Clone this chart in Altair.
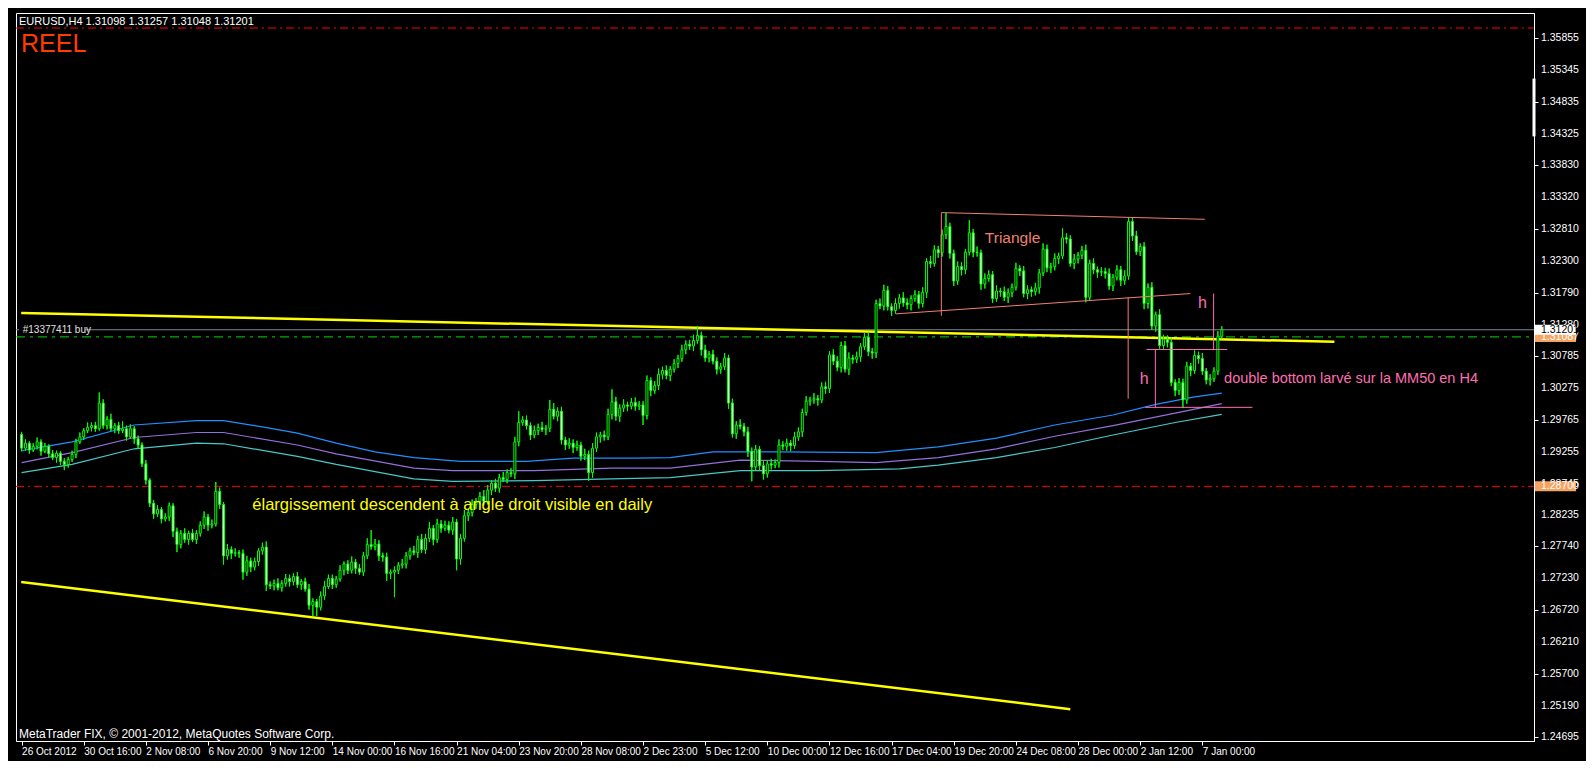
import pandas as pd
import altair as alt

# ---------------- data ----------------
first_open = 1.2953
closes = [
    1.2931, 1.2939, 1.2928, 1.2934, 1.2941, 1.2926, 1.2934, 1.2922, 1.2916, 1.2923,
    1.2910, 1.2905, 1.2913, 1.2921, 1.2941, 1.2949, 1.2959, 1.2964, 1.2967, 1.2962,
    1.3003, 1.2967, 1.2977, 1.2962, 1.2967, 1.2959, 1.2962, 1.2949, 1.2962, 1.2946,
    1.2936, 1.2906, 1.2880, 1.2843, 1.2826, 1.2833, 1.2818, 1.2821, 1.2839, 1.2798,
    1.2777, 1.2795, 1.2785, 1.2795, 1.2785, 1.2795, 1.2808, 1.2821, 1.2808, 1.2810,
    1.2862, 1.2841, 1.2759, 1.2769, 1.2763, 1.2764, 1.2763, 1.2733, 1.2751, 1.2741,
    1.2750, 1.2767, 1.2773, 1.2713, 1.2711, 1.2715, 1.2708, 1.2715, 1.2723, 1.2718,
    1.2726, 1.2713, 1.2718, 1.2706, 1.2680, 1.2686, 1.2677, 1.2695, 1.2710, 1.2723,
    1.2713, 1.2722, 1.2736, 1.2746, 1.2736, 1.2749, 1.2739, 1.2733, 1.2759, 1.2777,
    1.2774, 1.2778, 1.2759, 1.2757, 1.2731, 1.2733, 1.2736, 1.2744, 1.2746, 1.2759,
    1.2767, 1.2764, 1.2785, 1.2769, 1.2787, 1.2803, 1.2785, 1.2810, 1.2803, 1.2808,
    1.2800, 1.2813, 1.2754, 1.2787, 1.2823, 1.2828, 1.2841, 1.2846, 1.2854, 1.2846,
    1.2864, 1.2875, 1.2867, 1.2884, 1.2881, 1.2892, 1.2890, 1.2941, 1.2972, 1.2976,
    1.2967, 1.2952, 1.2959, 1.2964, 1.2961, 1.2963, 1.2993, 1.2982, 1.2990, 1.2944,
    1.2936, 1.2939, 1.2932, 1.2936, 1.2918, 1.2921, 1.2892, 1.2931, 1.2949, 1.2952,
    1.2949, 1.2985, 1.3005, 1.2982, 1.2995, 1.3000, 1.2998, 1.3004, 1.2998, 1.3000,
    1.2983, 1.3039, 1.3023, 1.3031, 1.3049, 1.3055, 1.3047, 1.3057, 1.3066, 1.3074,
    1.3088, 1.3097, 1.3094, 1.3103, 1.3111, 1.3088, 1.3075, 1.3081, 1.3070, 1.3057,
    1.3061, 1.3075, 1.3003, 1.2954, 1.2968, 1.2966, 1.2957, 1.2926, 1.2901, 1.2929,
    1.2903, 1.2890, 1.2906, 1.2904, 1.2908, 1.2936, 1.2934, 1.2939, 1.2935, 1.2949,
    1.2957, 1.2988, 1.3006, 1.3008, 1.3010, 1.3008, 1.3029, 1.3026, 1.3080, 1.3070,
    1.3060, 1.3095, 1.3057, 1.3075, 1.3073, 1.3077, 1.3093, 1.3108, 1.3085, 1.3083,
    1.3162, 1.3158, 1.3183, 1.3157, 1.3151, 1.3162, 1.3171, 1.3163, 1.3160, 1.3170,
    1.3176, 1.3162, 1.3180, 1.3229, 1.3226, 1.3248, 1.3243, 1.3272, 1.3285, 1.3242,
    1.3198, 1.3221, 1.3216, 1.3244, 1.3275, 1.3244, 1.3243, 1.3193, 1.3202, 1.3208,
    1.3170, 1.3182, 1.3181, 1.3172, 1.3179, 1.3188, 1.3218, 1.3214, 1.3178, 1.3184,
    1.3181, 1.3187, 1.3211, 1.3249, 1.3219, 1.3221, 1.3234, 1.3238, 1.3267, 1.3265,
    1.3226, 1.3233, 1.3239, 1.3247, 1.3172, 1.3226, 1.3216, 1.3212, 1.3213, 1.3210,
    1.3190, 1.3204, 1.3216, 1.3199, 1.3206, 1.3293, 1.3270, 1.3245, 1.3253, 1.3162,
    1.3188, 1.3126, 1.3144, 1.3095, 1.3105, 1.3100, 1.3036, 1.3023, 1.3036, 1.3008,
    1.3062, 1.3055, 1.3079, 1.3074, 1.3054, 1.3040, 1.3042, 1.3054, 1.31098, 1.31201,
]
# wick lengths in pips above / below the body
wick_up = [
    4, 6, 3, 5, 7, 4, 5, 3, 6, 4,   3, 5, 4, 6, 5, 7, 4, 8, 5, 6,
    17, 6, 5, 9, 4, 6, 12, 5, 7, 4,  5, 4, 6, 3, 5, 7, 4, 6, 5, 4,
    6, 5, 8, 4, 7, 5, 6, 9, 5, 7,   15, 6, 4, 9, 5, 7, 4, 6, 8, 5,
    6, 4, 7, 9, 5, 6, 8, 5, 7, 6,   5, 7, 4, 6, 8, 5, 4, 7, 9, 6,
    6, 5, 8, 4, 6, 9, 5, 7, 6, 10,  23, 8, 6, 5, 7, 4, 6, 5, 8, 6,
    5, 8, 6, 9, 7, 10, 5, 8, 6, 7,  6, 8, 5, 7, 9, 6, 8, 5, 7, 10,
    8, 5, 7, 6, 9, 5, 7, 8, 18, 6,  7, 5, 8, 6, 9, 5, 15, 10, 6, 7,
    5, 8, 6, 7, 5, 9, 6, 8, 7, 5,   7, 9, 20, 8, 6, 9, 5, 7, 8, 6,
    6, 8, 5, 7, 9, 6, 8, 5, 7, 6,   8, 6, 7, 9, 15, 6, 8, 5, 7, 6,
    6, 8, 5, 7, 6, 9, 5, 8, 6, 7,   5, 7, 6, 8, 5, 9, 6, 7, 5, 8,
    7, 6, 8, 5, 9, 6, 7, 8, 6, 9,   8, 6, 7, 9, 5, 8, 6, 7, 9, 6,
    6, 8, 9, 7, 5, 8, 6, 9, 7, 5,   7, 6, 8, 5, 9, 7, 6, 8, 22, 6,
    6, 8, 7, 5, 20, 6, 9, 5, 8, 7,  6, 9, 5, 8, 7, 6, 9, 5, 8, 7,
    5, 8, 6, 9, 7, 6, 8, 5, 15, 7,  6, 8, 5, 7, 9, 6, 8, 5, 7, 6,
    8, 5, 7, 6, 9, 7, 6, 8, 5, 7,   6, 8, 5, 9, 7, 6, 8, 5, 7, 6,
    7, 5, 8, 6, 9, 5, 7, 6, 8, 5.6,
]
wick_dn = [
    5, 4, 6, 3, 5, 7, 3, 6, 4, 8,   6, 9, 5, 4, 6, 3, 5, 4, 6, 5,
    3, 5, 6, 4, 7, 5, 4, 6, 3, 8,   6, 5, 7, 6, 8, 5, 7, 4, 6, 9,
    12, 6, 5, 8, 4, 7, 5, 6, 9, 5,  4, 7, 14, 6, 9, 5, 7, 12, 6, 8,
    5, 7, 6, 10, 5, 7, 4, 6, 5, 8,  6, 5, 8, 4, 7, 18, 14, 5, 6, 4,
    7, 5, 4, 8, 6, 5, 9, 4, 6, 5,   5, 6, 8, 7, 12, 9, 40, 6, 5, 7,
    6, 4, 8, 5, 7, 6, 9, 5, 7, 4,   5, 7, 18, 9, 5, 8, 6, 7, 5, 6,
    5, 8, 6, 7, 4, 6, 5, 8, 7, 5,   6, 8, 5, 7, 4, 9, 6, 5, 8, 7,
    8, 6, 9, 5, 7, 6, 13, 8, 6, 9,  6, 5, 8, 7, 9, 6, 8, 5, 7, 6,
    15, 6, 9, 5, 7, 8, 6, 9, 5, 7,  5, 7, 6, 8, 5, 9, 6, 7, 5, 8,
    7, 5, 9, 6, 8, 5, 7, 9, 23, 6,  8, 9, 6, 7, 5, 8, 6, 7, 9, 5,
    6, 8, 5, 7, 6, 9, 5, 8, 7, 6,   6, 8, 5, 9, 7, 6, 8, 5, 7, 9,
    8, 5, 7, 6, 9, 5, 8, 6, 7, 9,   5, 8, 6, 9, 7, 5, 8, 6, 7, 8,
    8, 6, 9, 7, 5, 8, 6, 9, 7, 5,   7, 5, 8, 6, 9, 7, 5, 8, 6, 9,
    8, 6, 9, 5, 7, 8, 6, 9, 5, 7,   5, 9, 7, 6, 8, 5, 7, 9, 6, 8,
    6, 8, 5, 9, 7, 6, 8, 5, 7, 9,   8, 6, 9, 5, 7, 8, 6, 9, 7, 13,
    6, 9, 5, 8, 6, 7, 9, 5, 6, 5,
]

time_labels = ["26 Oct 2012", "30 Oct 16:00", "2 Nov 08:00", "6 Nov 20:00", "9 Nov 12:00",
               "14 Nov 00:00", "16 Nov 16:00", "21 Nov 04:00", "23 Nov 20:00", "28 Nov 08:00",
               "2 Dec 23:00", "5 Dec 12:00", "10 Dec 00:00", "12 Dec 16:00", "17 Dec 04:00",
               "19 Dec 20:00", "24 Dec 08:00", "28 Dec 00:00", "2 Jan 12:00", "7 Jan 00:00"]
bars_per_label = 16
price_ticks = [1.35855, 1.35345, 1.34835, 1.34325, 1.33830, 1.33320, 1.32810, 1.32300,
               1.31790, 1.31280, 1.30785, 1.30275, 1.29765, 1.29255, 1.28745, 1.28235,
               1.27740, 1.27230, 1.26720, 1.26210, 1.25700, 1.25190, 1.24695]

# moving-average envelope (MM50 bands)
blue_bars = [0, 13, 29, 45, 52, 62, 71, 81, 91, 101, 113, 130, 142, 158, 167, 178, 195, 220, 236, 251, 266, 281, 292, 302, 309]
blue_vals = [1.2927, 1.2941, 1.2968, 1.2975, 1.2975, 1.2965, 1.2955, 1.2939, 1.2925, 1.2916, 1.2910, 1.2910, 1.2915,
             1.2915, 1.2916, 1.2925, 1.2925, 1.2924, 1.2933, 1.2947, 1.2968, 1.2984, 1.3001, 1.3013, 1.3019]
purple_bars = [0, 13, 29, 45, 52, 71, 81, 101, 111, 132, 152, 167, 185, 205, 220, 236, 251, 266, 281, 297, 309]
purple_vals = [1.2908, 1.2924, 1.2948, 1.2956, 1.2956, 1.2936, 1.2922, 1.2899, 1.2895, 1.2895, 1.2899, 1.2899,
               1.2912, 1.2910, 1.2908, 1.2916, 1.2930, 1.2950, 1.2967, 1.2987, 1.3002]
cyan_bars = [0, 13, 29, 45, 52, 71, 81, 101, 111, 132, 152, 167, 185, 205, 226, 236, 251, 266, 281, 297, 309]
cyan_vals = [1.2892, 1.2905, 1.2930, 1.2939, 1.2938, 1.2918, 1.2905, 1.2882, 1.2878, 1.2879, 1.2882, 1.2884,
             1.2895, 1.2895, 1.2898, 1.2904, 1.2916, 1.2932, 1.2952, 1.2972, 1.2985]

# levels
bid_price = 1.31201
order_price = 1.31087
alert_low = 1.28700
alert_high = 1.36020
marker_top, marker_bottom = 1.35213, 1.34289

# trend lines: (bar1, price1, bar2, price2)
yellow_upper = [(-0.1, 1.31470, 338, 1.31009)]
yellow_lower = [(-0.1, 1.27173, 270, 1.25141)]
tri_lines = [(236.8, 1.33072, 304.6, 1.32965), (225.1, 1.31455, 300.9, 1.31779),
             (236.8, 1.33072, 236.8, 1.31425), (284.9, 1.31717, 284.9, 1.30100)]
pink_lines = [(289.6, 1.30886, 310.4, 1.30886), (289.3, 1.29962, 316.9, 1.29962),
              (291.9, 1.30886, 291.9, 1.29962), (306.9, 1.31779, 306.9, 1.30886)]

# ---------------- build tables ----------------
W, H = 1518, 728
FONT = "Liberation Sans"
opens = [first_open] + closes[:-1]
rows = []
for i, c in enumerate(closes):
    o = opens[i]
    rows.append(dict(bar=i, open=o, close=c,
                     high=max(o, c) + wick_up[i] * 0.0001,
                     low=min(o, c) - wick_dn[i] * 0.0001,
                     dir="bull" if c >= o else "bear"))
candles = pd.DataFrame(rows)

xs = alt.Scale(domain=[-0.15, 388.1], nice=False, zero=False)
ys = alt.Scale(domain=[1.24633, 1.36260], nice=False, zero=False)

label_expr = ""
for k, lab in enumerate(time_labels):
    label_expr += f"datum.value == {k * bars_per_label} ? '{lab}' : "
label_expr += "''"


def X(f):
    return alt.X(f + ":Q", scale=xs)


def Y(f):
    return alt.Y(f + ":Q", scale=ys)


def hline(price, color, dash=None, width=1):
    kw = dict(color=color, strokeWidth=width)
    if dash:
        kw["strokeDash"] = dash
    return alt.Chart(pd.DataFrame({"p": [price]})).mark_rule(**kw).encode(
        x=alt.value(0), x2=alt.value(W), y=Y("p"))


def seg(lines, color, width):
    df = pd.DataFrame([dict(b1=b1, p1=p1, b2=b2, p2=p2) for (b1, p1, b2, p2) in lines])
    return alt.Chart(df).mark_rule(color=color, strokeWidth=width).encode(
        x=X("b1"), y=Y("p1"), x2="b2:Q", y2="p2:Q")


def ma(bars, vals, color):
    return alt.Chart(pd.DataFrame({"b": bars, "p": vals})).mark_line(color=color, strokeWidth=1.2).encode(
        x=X("b"), y=Y("p"))


def txt(text, bar, price, color, size, align="left"):
    return alt.Chart(pd.DataFrame({"b": [bar], "p": [price], "t": [text]})).mark_text(
        color=color, fontSize=size, font=FONT, align=align, baseline="middle").encode(
        x=X("b"), y=Y("p"), text="t:N")


def screen_txt(text, x, y, color, size):
    return alt.Chart(pd.DataFrame({"t": [text]})).mark_text(
        color=color, fontSize=size, font=FONT, align="left", baseline="middle").encode(
        x=alt.value(x), y=alt.value(y), text="t:N")


def axis_box(price, fill, text_color):
    d = pd.DataFrame({"p": [price], "t": [f"{price:.5f}"]})
    box = alt.Chart(d).mark_rule(color=fill, strokeWidth=10).encode(
        x=alt.value(W + 1), x2=alt.value(W + 42), y=Y("p"))
    lab = alt.Chart(d).mark_text(color=text_color, fontSize=10.5, font=FONT, align="left",
                                 baseline="middle").encode(x=alt.value(W + 7), y=Y("p"), text="t:N")
    return [box, lab]


base = alt.Chart(candles)
wicks = base.mark_rule(color="#00FF00").encode(
    x=alt.X("bar:Q", scale=xs,
            axis=alt.Axis(values=[k * bars_per_label for k in range(len(time_labels))], labelExpr=label_expr,
                          labelAlign="left", tickSize=4, labelPadding=1, labelFontSize=10,
                          labelColor="white", domainColor="white", tickColor="white", grid=False,
                          title=None, labelFont=FONT)),
    y=alt.Y("low:Q", scale=ys,
            axis=alt.Axis(values=price_ticks, format=".5f", orient="right", tickSize=4, labelFontSize=10.5,
                          labelColor="black", domainColor="white", tickColor="white", grid=False,
                          title=None, labelFont=FONT)),
    y2="high:Q")
bodies = base.mark_bar(size=2, stroke="#00FF00", strokeWidth=1).encode(
    x=X("bar"), y=Y("open"), y2="close:Q",
    fill=alt.Fill("dir:N", scale=alt.Scale(domain=["bull", "bear"], range=["#000000", "#FFFFFF"]), legend=None))

price_labels = alt.Chart(pd.DataFrame({"p": price_ticks, "t": [f"{v:.5f}" for v in price_ticks]})).mark_text(
    color="white", fontSize=10.5, font=FONT, align="left", baseline="middle").encode(
    x=alt.value(W + 7), y=Y("p"), text="t:N")

layers = [
    wicks,
    hline(alert_high, "#FF0000", [8, 4, 2, 4]),
    hline(alert_low, "#FF0000", [8, 4, 2, 4]),
    hline(order_price, "#00DD00", [9, 5, 3, 5]),
    hline(bid_price, "#778899"),
    ma(blue_bars, blue_vals, "#1E90FF"),
    ma(purple_bars, purple_vals, "#9370DB"),
    ma(cyan_bars, cyan_vals, "#48C8C8"),
    seg(yellow_upper, "#FFFF00", 2.5),
    seg(yellow_lower, "#FFFF00", 2.5),
    base.mark_rule(color="#00FF00").encode(x=X("bar"), y=Y("low"), y2="high:Q"),
    bodies,
    seg(tri_lines, "#F08070", 1),
    seg(pink_lines, "#FF6EB4", 1),
    txt("Triangle", 248, 1.3267, "#F08070", 15.5),
    txt("h", 289, 1.3041, "#FF6EB4", 16, "center"),
    txt("h", 304, 1.3163, "#FF6EB4", 16, "center"),
    txt("double bottom larvé sur la MM50 en H4", 309.6, 1.3041, "#FF6EB4", 14.5),
    txt("élargissement descendent à angle droit visible en daily", 59.4, 1.28406, "#FFFF00", 16.5),
    alt.Chart(pd.DataFrame({"p": [bid_price]})).mark_rule(color="black", strokeWidth=11).encode(
        x=alt.value(3), x2=alt.value(69), y=Y("p")),
    txt("#13377411 buy", 0.3, bid_price - 0.00003, "#E0E0E0", 10),
    screen_txt("EURUSD,H4  1.31098 1.31257 1.31048 1.31201", 3, 9, "white", 11),
    screen_txt("REEL", 5, 31, "#FF3C00", 25),
    screen_txt("MetaTrader FIX, © 2001-2012, MetaQuotes Software Corp.", 3, H - 7, "white", 12),
    alt.Chart(pd.DataFrame({"a": [marker_top], "b": [marker_bottom]})).mark_rule(
        color="white", strokeWidth=3).encode(x=alt.value(W), y=Y("a"), y2="b:Q"),
    price_labels,
]
layers += axis_box(alert_low, "#F4A460", "#FFFFFF")
layers += axis_box(order_price, "#F4A460", "#FFFFFF")
layers += axis_box(bid_price, "#FFFFFF", "#000000")

chart = alt.layer(*layers).properties(width=W, height=H, background="black").configure_view(stroke="white")

chart.save("out.html", embed_options={"renderer": "svg", "actions": False})
